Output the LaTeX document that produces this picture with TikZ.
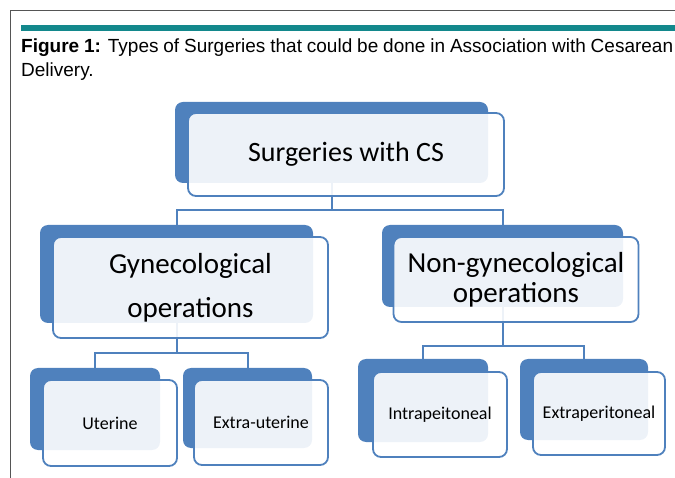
\documentclass[tikz,border=0pt]{standalone}
\usepackage{fontspec}
\setmainfont{Liberation Sans}
\newfontfamily\boxfont{Carlito}
\usetikzlibrary{positioning,calc}
\definecolor{csblue}{RGB}{79,129,189}
\definecolor{barteal}{RGB}{19,136,140}
\definecolor{framegray}{RGB}{85,85,85}

\begin{document}
\begin{tikzpicture}[x=1pt,y=-1pt]
	\tikzstyle{backbox}=[rectangle, rounded corners=8pt, fill=csblue, inner sep=0pt]
	\tikzstyle{frontbox}=[rectangle, rounded corners=8pt, draw=csblue, line width=1.8pt, fill=white, fill opacity=0.9, text opacity=1, inner sep=0pt, align=center]
	\tikzstyle{link}=[draw=csblue, line width=2pt]
	\useasboundingbox (0,0) rectangle (675,478);
	% frame and caption
	\draw [framegray, line width=0.8pt] (10,478) -- (10,10) -- (675,10);
	\fill [barteal] (21,25) rectangle (675,31);
	\node [anchor=base west, inner sep=0pt, text width=652, align=justify, font=\fontsize{19}{24}\selectfont] (caption) at (21,53) {\textbf{Figure 1:} Types of Surgeries that could be done in Association with Cesarean\linebreak Delivery.};
	% back boxes
	\node [backbox, minimum width=313, minimum height=81] (topb) at (331.5,142.5) {};
	\node [backbox, minimum width=273, minimum height=98] (gynb) at (176.5,274) {};
	\node [backbox, minimum width=241, minimum height=82] (nongynb) at (502.5,266) {};
	\node [backbox, minimum width=130, minimum height=82] (uterb) at (95,409) {};
	\node [backbox, minimum width=129, minimum height=80] (extutb) at (247.5,408) {};
	\node [backbox, minimum width=130, minimum height=83] (intrab) at (423,400.5) {};
	\node [backbox, minimum width=128, minimum height=81] (extperb) at (584,399.5) {};
	% connectors
	\coordinate (topbus) at ($(topb.south)+(0,27)$);
	\coordinate (gynbus) at ($(gynb.south)+(0,30)$);
	\coordinate (nongynbus) at ($(nongynb.south)+(0,39)$);
	\draw [link] (topb.south) -- (topbus);
	\draw [link] (gynb.north) |- (topbus) -| (nongynb.north);
	\draw [link] (gynb.south) -- (gynbus);
	\draw [link] (uterb.north) |- (gynbus) -| (extutb.north);
	\draw [link] (nongynb.south) -- (nongynbus);
	\draw [link] (intrab.north) |- (nongynbus) -| (extperb.north);
	% front boxes
	\node [frontbox, minimum width=316, minimum height=83, font=\boxfont\fontsize{28}{30}\selectfont] (top) at (346,154.5) {Surgeries with CS};
	\node [frontbox, minimum width=275, minimum height=101, font=\boxfont\fontsize{29}{44}\selectfont] (gyn) at (190.5,287.5) {Gynecological\\operations};
	\node [frontbox, minimum width=245, minimum height=85, font=\boxfont\fontsize{29}{30}\selectfont] (nongyn) at (516,279.5) {Non-gynecological\\operations};
	\node [frontbox, minimum width=134, minimum height=86, font=\boxfont\fontsize{18}{20}\selectfont] (uter) at (110,423) {Uterine};
	\node [frontbox, minimum width=134, minimum height=85, font=\boxfont\fontsize{18}{20}\selectfont] (extut) at (261,422.5) {Extra-uterine};
	\node [frontbox, minimum width=134, minimum height=85, font=\boxfont\fontsize{18}{20}\selectfont] (intra) at (440,414.5) {Intrapeitoneal};
	\node [frontbox, minimum width=132, minimum height=83, font=\boxfont\fontsize{18}{20}\selectfont] (extper) at (599,413.5) {Extraperitoneal};
\end{tikzpicture}
\end{document}
